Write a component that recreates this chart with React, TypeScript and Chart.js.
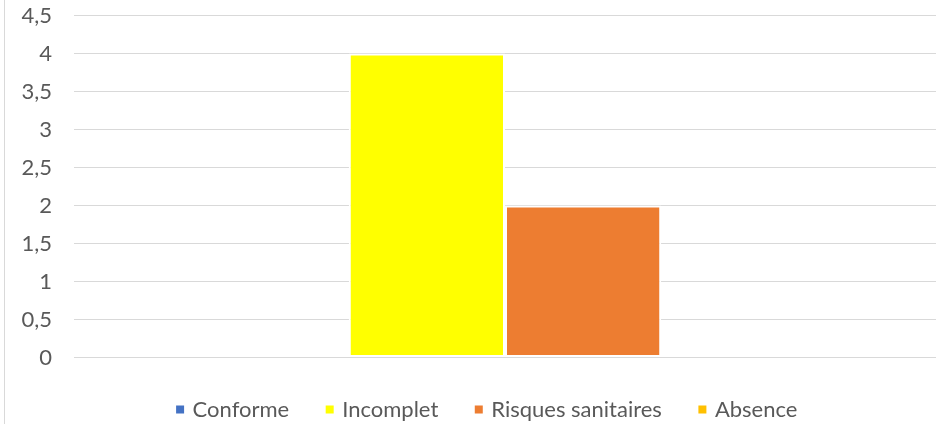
import React, { useEffect, useRef } from "react";
import { Chart, registerables } from "chart.js";

Chart.register(...registerables);

const categories = [""];
const seriesNames = ["Conforme", "Incomplet", "Risques sanitaires", "Absence"];
const conformeValues = [0];
const incompletValues = [4];
const risquesValues = [2];
const absenceValues = [0];
const seriesColors = ["#4472C4", "#FFFF00", "#ED7D31", "#FFC000"];
const yTickLabels = ["0", "0,5", "1", "1,5", "2", "2,5", "3", "3,5", "4", "4,5"];

const LEGEND_CENTER_X = 488;

const legendShift = {
  id: "legendShift",
  afterLayout(chart: any) {
    const l = chart.legend;
    if (!l) return;
    const d = LEGEND_CENTER_X - (l.left + l.right) / 2;
    l.left += d;
    l.right += d;
  },
};

export default function App() {
  const canvasRef = useRef<HTMLCanvasElement | null>(null);

  useEffect(() => {
    if (!canvasRef.current) return;
    const font = { family: "Lato, 'Open Sans', sans-serif", size: 22 };
    const seriesValues = [conformeValues, incompletValues, risquesValues, absenceValues];
    const chart = new Chart(canvasRef.current, {
      type: "bar",
      data: {
        labels: categories,
        datasets: seriesNames.map((name, i) => ({
          label: name,
          data: seriesValues[i],
          backgroundColor: seriesColors[i],
          borderColor: "#FFFFFF",
          borderWidth: 2,
          borderSkipped: false,
          categoryPercentage: 0.725,
          barPercentage: 1,
        })),
      },
      plugins: [legendShift],
      options: {
        responsive: false,
        animation: false,
        layout: { padding: { top: 15.5, right: 5, bottom: 0, left: 0 } },
        scales: {
          x: {
            display: true,
            grid: {
              display: true,
              drawOnChartArea: false,
              drawTicks: true,
              tickLength: 2,
              color: "rgba(0,0,0,0)",
            },
            border: { display: false },
            ticks: { display: false },
          },
          y: {
            min: 0,
            max: 4.5,
            ticks: {
              stepSize: 0.5,
              padding: 22,
              color: "#595959",
              font,
              callback: (_v: any, i: number) => yTickLabels[i],
            },
            grid: { color: "#D9D9D9", lineWidth: 1, drawTicks: false },
            border: { display: false },
            afterFit: (s: any) => {
              s.width = 74;
              s.paddingTop = 0;
              s.paddingBottom = 0;
            },
          },
        },
        plugins: {
          legend: {
            position: "bottom",
            maxHeight: 64.5,
            labels: {
              usePointStyle: true,
              pointStyle: "rect",
              boxWidth: 3,
              boxHeight: 8,
              padding: 39,
              color: "#595959",
              font,
              generateLabels: (c: any) =>
                Chart.defaults.plugins.legend.labels
                  .generateLabels(c)
                  .map((item: any) => ({ ...item, lineWidth: 0 })),
            },
          },
          tooltip: { enabled: false },
        },
      } as any,
    });
    return () => chart.destroy();
  }, []);

  return (
    <div
      style={{
        position: "fixed",
        top: 0,
        left: 0,
        width: 941,
        height: 424,
        background: "#FFFFFF",
      }}
    >
      <div
        style={{
          position: "absolute",
          left: 4,
          top: 0,
          width: 1,
          height: 424,
          background: "#D9D9D9",
        }}
      />
      <canvas
        ref={canvasRef}
        width={941}
        height={424}
        style={{ position: "absolute", left: 0, top: 0 }}
      />
    </div>
  );
}
